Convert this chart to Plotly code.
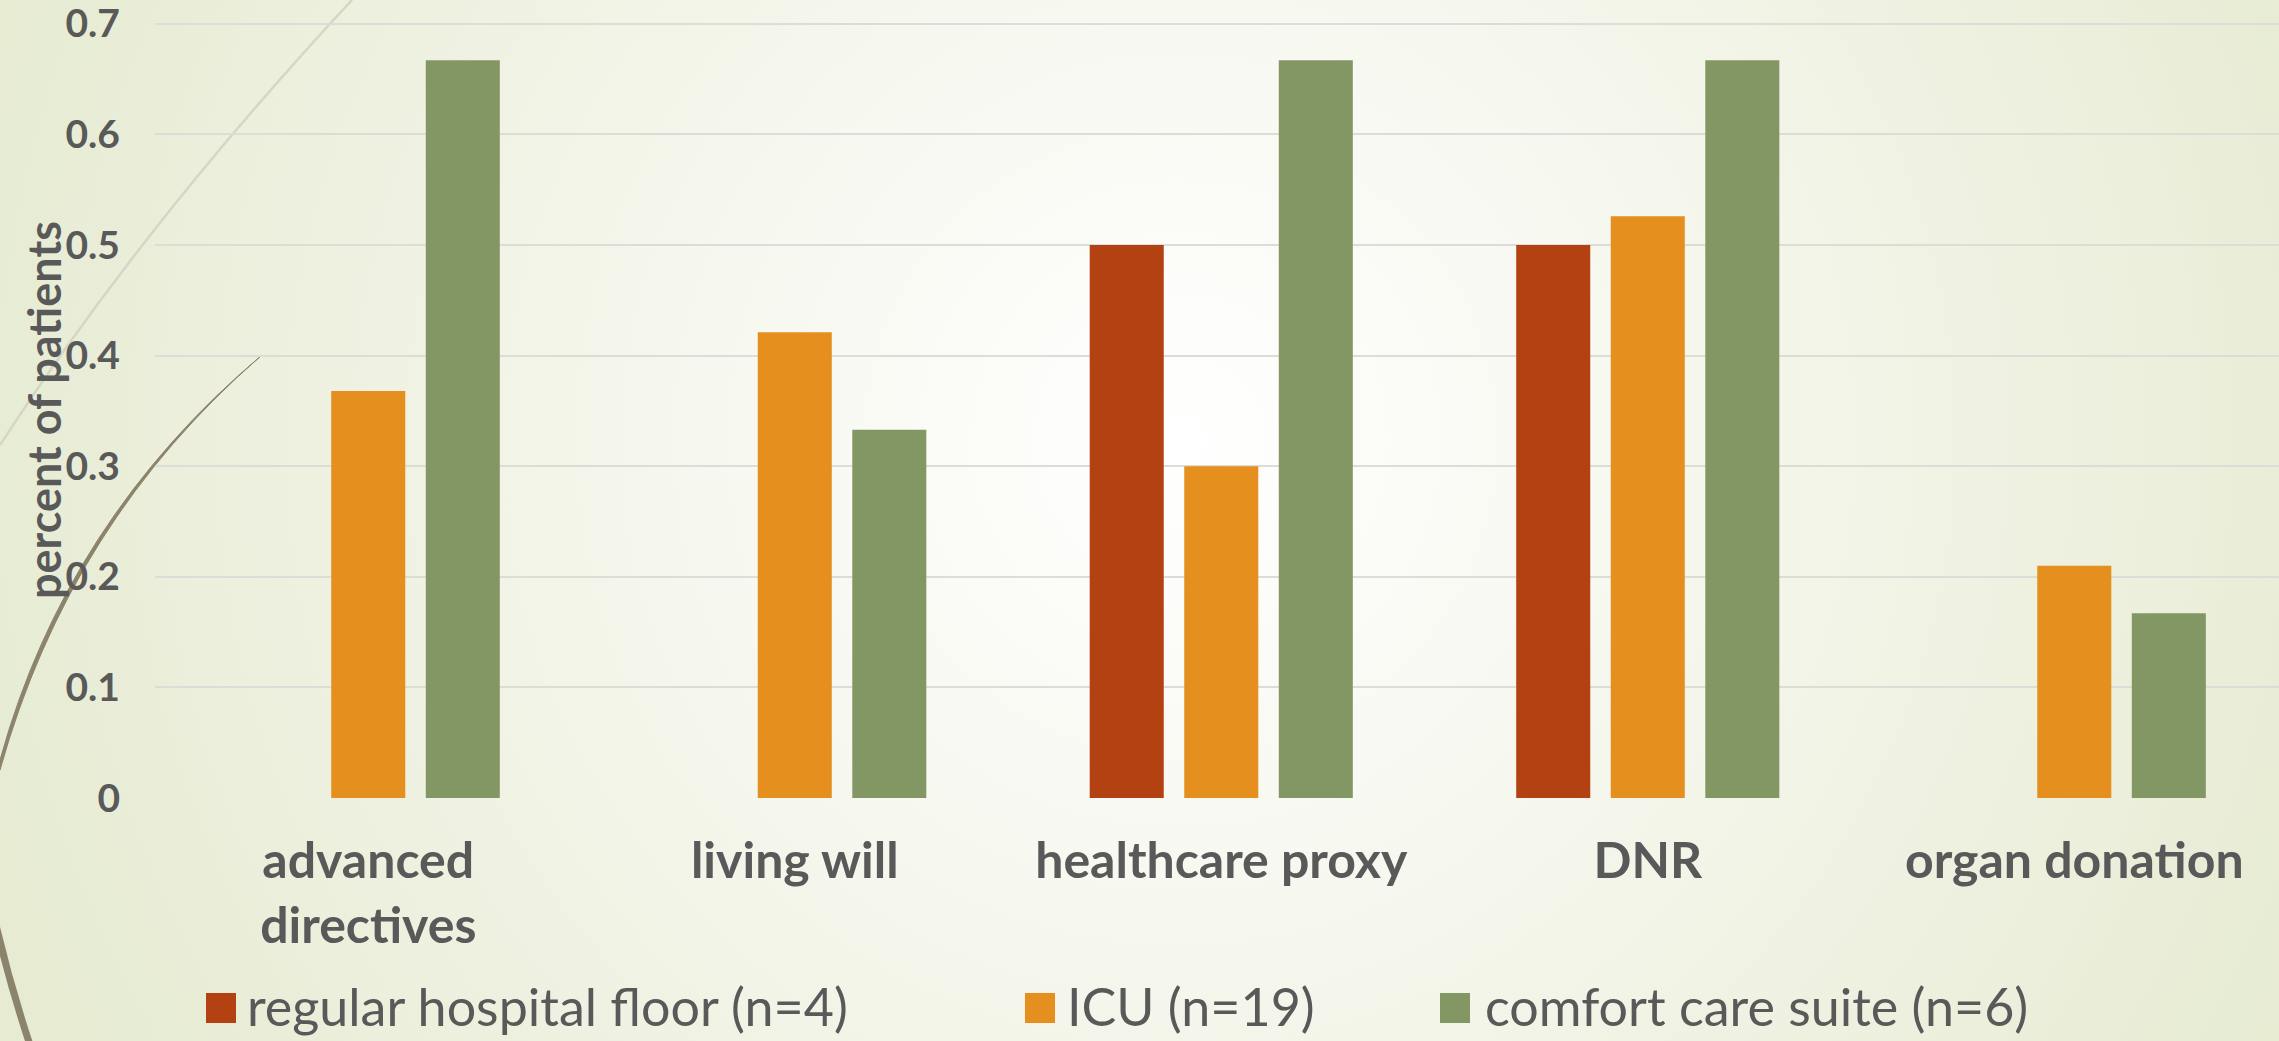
import base64
import plotly.graph_objects as go

# ---------------- data ----------------
categories = ["advanced<br>directives", "living will", "healthcare proxy", "DNR", "organ donation"]
series_names = ["regular hospital floor (n=4)", "ICU (n=19)", "comfort care suite (n=6)"]
regular_floor = [0.0, 0.0, 0.5, 0.5, 0.0]
icu = [0.368, 0.421, 0.30, 0.526, 0.21]
comfort_suite = [0.667, 0.333, 0.667, 0.667, 0.167]
y_ticks = [0, 0.1, 0.2, 0.3, 0.4, 0.5, 0.6, 0.7]
y_tick_labels = ["0", "0.1", "0.2", "0.3", "0.4", "0.5", "0.6", "0.7"]

colors = ["#B44111", "#E48F1E", "#839765"]
TEXT = "#595959"

W, H = 2279, 1041
ML, MR, MT, MB = 155, 0, 22, 243
PW, PH = W - ML - MR, H - MT - MB


def px_x(px):
    return (px - ML) / PW


def px_y(py):
    return (H - MB - py) / PH


# ---------------- background (gradient + theme curves) ----------------
svg = f"""<svg xmlns='http://www.w3.org/2000/svg' width='{W}' height='{H}' viewBox='0 0 {W} {H}' preserveAspectRatio='none'>
<defs>
<radialGradient id='g' cx='1180' cy='440' r='1250' gradientUnits='userSpaceOnUse'>
<stop offset='0' stop-color='#FFFFFF'/>
<stop offset='0.35' stop-color='#F7F8F0'/>
<stop offset='1' stop-color='#E6EBD2'/>
</radialGradient>
</defs>
<rect x='0' y='0' width='{W}' height='{H}' fill='url(#g)'/>
<path d='M 352 0 Q 140 228 0 445' fill='none' stroke='#D4D7C4' stroke-width='2.5'/>
<path d='M 262 355 Q 69 522 0 770 L 0 760 Q 66 520 262 355 Z' fill='#8C836B' stroke='#8C836B' stroke-width='1'/>
<path d='M -4 925 Q 10 985 30 1045' fill='none' stroke='#8C836B' stroke-width='7'/>
</svg>"""
bg_uri = "data:image/svg+xml;base64," + base64.b64encode(svg.encode()).decode()

fig = go.Figure()
for name, vals, col in zip(series_names, [regular_floor, icu, comfort_suite], colors):
    fig.add_trace(go.Bar(x=categories, y=vals, name=name, marker=dict(color=col, line=dict(width=0)),
                         showlegend=False))

# ---------------- custom legend ----------------
legend_sq = [(206, 236), (1025, 1055), (1440, 1470)]
legend_tx = [249, 1069, 1487]
shapes = []
annotations = []
for (x0, x1), tx, name, col in zip(legend_sq, legend_tx, series_names, colors):
    shapes.append(dict(type="rect", xref="paper", yref="paper",
                       x0=px_x(x0), x1=px_x(x1), y0=px_y(1023), y1=px_y(993),
                       fillcolor=col, line=dict(width=0)))
    annotations.append(dict(text=name, xref="paper", yref="paper", x=px_x(tx - 4), y=px_y(1006),
                            xanchor="left", yanchor="middle", showarrow=False,
                            font=dict(family="Lato", size=52, color=TEXT)))

annotations.append(dict(text="percent of patients", xref="paper", yref="paper",
                        x=px_x(44), y=px_y(410), xanchor="center", yanchor="middle",
                        textangle=-90, showarrow=False,
                        font=dict(family="Lato", size=45, color=TEXT, weight="bold")))

fig.update_layout(
    width=W, height=H,
    margin=dict(l=ML, r=MR, t=MT, b=MB, pad=0),
    paper_bgcolor="#EEF2E2",
    plot_bgcolor="rgba(0,0,0,0)",
    barmode="group",
    bargap=0.335,
    bargroupgap=0.217,
    images=[dict(source=bg_uri, xref="paper", yref="paper",
                 x=px_x(0), y=px_y(0), sizex=W / PW, sizey=H / PH,
                 xanchor="left", yanchor="top", sizing="stretch", layer="below")],
    shapes=shapes,
    annotations=annotations,
    xaxis=dict(type="category", range=[-0.5, 4.48], showgrid=False, zeroline=False,
               showline=False, ticks="", ticklabelstandoff=29,
               tickfont=dict(family="Lato", size=50, color=TEXT, weight="bold")),
    yaxis=dict(range=[0, 0.7015], tickvals=y_ticks, ticktext=y_tick_labels,
               showgrid=True, gridcolor="#DCDDD6", gridwidth=2, zeroline=False,
               showline=False, ticks="", ticklabelstandoff=34, ticklabeloverflow="allow",
               tickfont=dict(family="Lato", size=39, color=TEXT, weight="bold")),
    font=dict(family="Lato", color=TEXT),
)

fig.write_html("out.html")
